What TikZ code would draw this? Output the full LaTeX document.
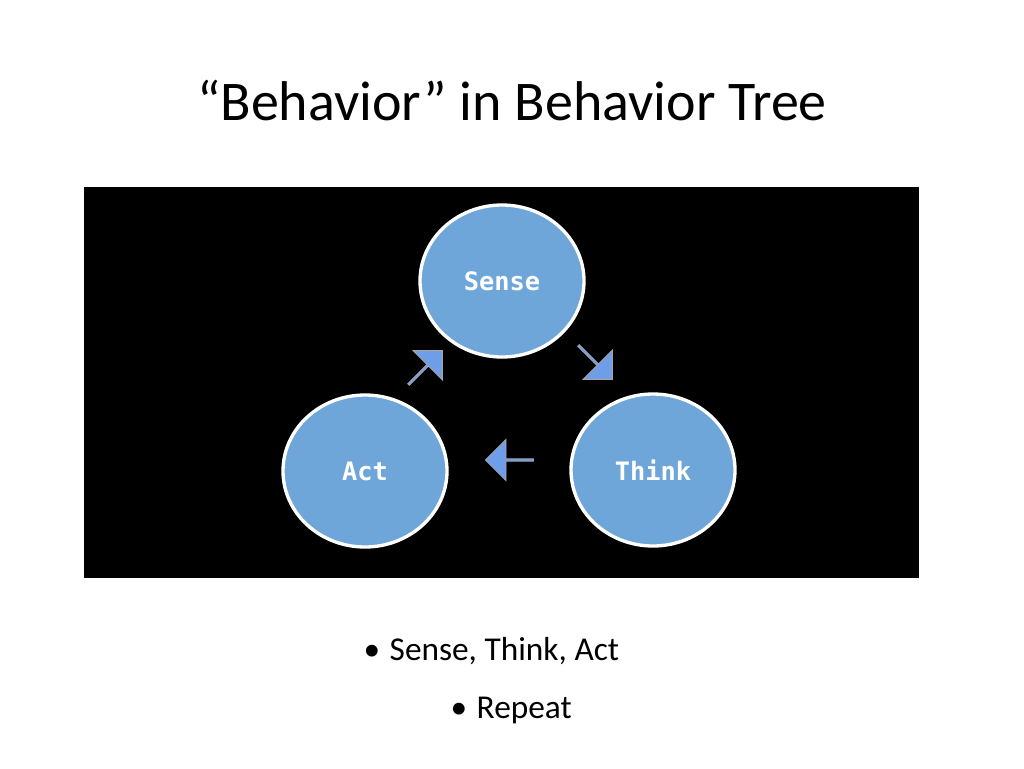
\documentclass[tikz,border=0pt]{standalone}
\usepackage{fontspec}
\setmainfont{Carlito}
\newfontfamily\monobold{DejaVu Sans Mono}
\usetikzlibrary{positioning, shapes.geometric, shapes.arrows}
\definecolor{circblue}{HTML}{6FA6D9}
\definecolor{arrowblue}{HTML}{6F9EE8}
\begin{document}
\begin{tikzpicture}[x=0.75pt, y=-0.75pt,
  % Node Styles
  stepnode/.style={ellipse, draw=white, line width=2.5pt, fill=circblue, text=white, minimum width=123pt, minimum height=114pt, font=\monobold\bfseries\fontsize{19}{22}\selectfont},
  blockarrow/.style={single arrow, draw=gray!70, fill=arrowblue, line width=0.6pt, minimum height=36pt, minimum width=31pt, single arrow head extend=5pt, inner sep=0pt},
  bullettext/.style={font=\fontsize{25}{30}\selectfont, anchor=base west}
]
\useasboundingbox (0,0) rectangle (1024,768);
\fill[white] (0,0) rectangle (1024,768);

% Title
\node[font=\fontsize{42}{50}\selectfont, anchor=base] (title) at (512,120) {``Behavior'' in Behavior Tree};

% Black panel
\fill[black] (84,187) rectangle (919,578);

% Nodes
\node[stepnode] (Sense) at (502,281) {Sense};
\node[stepnode] (Act) at (365,471) {Act};
\node[stepnode] (Think) at (653,470) {Think};

% Arrows
\node[blockarrow, rotate=45] (ActSense) at (425,368) {};
\node[blockarrow, rotate=-45] (SenseThink) at (595,362) {};
\node[blockarrow, rotate=180] (ThinkAct) at (510,460) {};

% Bullets
\node[bullettext] (b1) at (385,660) {Sense, Think, Act};
\node[bullettext, anchor=base east] at (b1.base west) {\textbullet\hspace{14pt}};
\node[bullettext] (b2) at (472,718) {Repeat};
\node[bullettext, anchor=base east] at (b2.base west) {\textbullet\hspace{14pt}};
\end{tikzpicture}
\end{document}
